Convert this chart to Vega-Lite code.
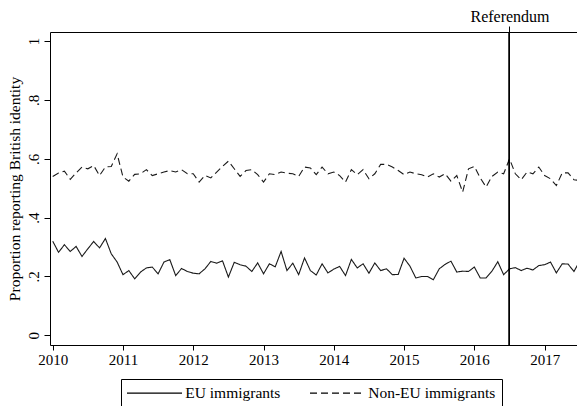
{
  "$schema": "https://vega.github.io/schema/vega-lite/v6.json",
  "width": 527,
  "height": 313,
  "autosize": "none",
  "padding": {"left": 50, "top": 32, "right": 0, "bottom": 61},
  "background": "white",
  "config": {
    "view": {"stroke": null},
    "font": "Liberation Serif",
    "axis": {"domainColor": "#000", "tickColor": "#000", "labelColor": "#000", "titleColor": "#000", "labelFont": "Liberation Serif", "titleFont": "Liberation Serif", "labelFontSize": 15, "titleFontSize": 15.5, "titleFontWeight": "normal", "grid": false, "domainWidth": 1, "tickWidth": 1},
    "legend": {"labelFont": "Liberation Serif", "labelFontSize": 15.5, "labelColor": "#000"}
  },
  "data": {"values": [
    {"t": 2010.0, "EU immigrants": 0.320, "Non-EU immigrants": 0.540},
    {"t": 2010.0833, "EU immigrants": 0.282, "Non-EU immigrants": 0.552},
    {"t": 2010.1667, "EU immigrants": 0.308, "Non-EU immigrants": 0.558},
    {"t": 2010.25, "EU immigrants": 0.285, "Non-EU immigrants": 0.530},
    {"t": 2010.3333, "EU immigrants": 0.302, "Non-EU immigrants": 0.552},
    {"t": 2010.4167, "EU immigrants": 0.268, "Non-EU immigrants": 0.572},
    {"t": 2010.5, "EU immigrants": 0.294, "Non-EU immigrants": 0.566},
    {"t": 2010.5833, "EU immigrants": 0.319, "Non-EU immigrants": 0.577},
    {"t": 2010.6667, "EU immigrants": 0.297, "Non-EU immigrants": 0.543},
    {"t": 2010.75, "EU immigrants": 0.329, "Non-EU immigrants": 0.572},
    {"t": 2010.8333, "EU immigrants": 0.277, "Non-EU immigrants": 0.574},
    {"t": 2010.9167, "EU immigrants": 0.249, "Non-EU immigrants": 0.617},
    {"t": 2011.0, "EU immigrants": 0.206, "Non-EU immigrants": 0.538},
    {"t": 2011.0833, "EU immigrants": 0.220, "Non-EU immigrants": 0.524},
    {"t": 2011.1667, "EU immigrants": 0.192, "Non-EU immigrants": 0.547},
    {"t": 2011.25, "EU immigrants": 0.215, "Non-EU immigrants": 0.549},
    {"t": 2011.3333, "EU immigrants": 0.229, "Non-EU immigrants": 0.563},
    {"t": 2011.4167, "EU immigrants": 0.232, "Non-EU immigrants": 0.543},
    {"t": 2011.5, "EU immigrants": 0.209, "Non-EU immigrants": 0.549},
    {"t": 2011.5833, "EU immigrants": 0.249, "Non-EU immigrants": 0.555},
    {"t": 2011.6667, "EU immigrants": 0.257, "Non-EU immigrants": 0.560},
    {"t": 2011.75, "EU immigrants": 0.203, "Non-EU immigrants": 0.555},
    {"t": 2011.8333, "EU immigrants": 0.227, "Non-EU immigrants": 0.563},
    {"t": 2011.9167, "EU immigrants": 0.217, "Non-EU immigrants": 0.549},
    {"t": 2012.0, "EU immigrants": 0.211, "Non-EU immigrants": 0.549},
    {"t": 2012.0833, "EU immigrants": 0.209, "Non-EU immigrants": 0.521},
    {"t": 2012.1667, "EU immigrants": 0.226, "Non-EU immigrants": 0.543},
    {"t": 2012.25, "EU immigrants": 0.251, "Non-EU immigrants": 0.535},
    {"t": 2012.3333, "EU immigrants": 0.245, "Non-EU immigrants": 0.555},
    {"t": 2012.4167, "EU immigrants": 0.253, "Non-EU immigrants": 0.574},
    {"t": 2012.5, "EU immigrants": 0.198, "Non-EU immigrants": 0.592},
    {"t": 2012.5833, "EU immigrants": 0.248, "Non-EU immigrants": 0.566},
    {"t": 2012.6667, "EU immigrants": 0.240, "Non-EU immigrants": 0.540},
    {"t": 2012.75, "EU immigrants": 0.235, "Non-EU immigrants": 0.560},
    {"t": 2012.8333, "EU immigrants": 0.217, "Non-EU immigrants": 0.563},
    {"t": 2012.9167, "EU immigrants": 0.246, "Non-EU immigrants": 0.546},
    {"t": 2013.0, "EU immigrants": 0.209, "Non-EU immigrants": 0.521},
    {"t": 2013.0833, "EU immigrants": 0.243, "Non-EU immigrants": 0.549},
    {"t": 2013.1667, "EU immigrants": 0.233, "Non-EU immigrants": 0.546},
    {"t": 2013.25, "EU immigrants": 0.285, "Non-EU immigrants": 0.555},
    {"t": 2013.3333, "EU immigrants": 0.220, "Non-EU immigrants": 0.551},
    {"t": 2013.4167, "EU immigrants": 0.245, "Non-EU immigrants": 0.549},
    {"t": 2013.5, "EU immigrants": 0.206, "Non-EU immigrants": 0.540},
    {"t": 2013.5833, "EU immigrants": 0.263, "Non-EU immigrants": 0.572},
    {"t": 2013.6667, "EU immigrants": 0.220, "Non-EU immigrants": 0.569},
    {"t": 2013.75, "EU immigrants": 0.205, "Non-EU immigrants": 0.546},
    {"t": 2013.8333, "EU immigrants": 0.243, "Non-EU immigrants": 0.572},
    {"t": 2013.9167, "EU immigrants": 0.212, "Non-EU immigrants": 0.549},
    {"t": 2014.0, "EU immigrants": 0.225, "Non-EU immigrants": 0.555},
    {"t": 2014.0833, "EU immigrants": 0.234, "Non-EU immigrants": 0.543},
    {"t": 2014.1667, "EU immigrants": 0.203, "Non-EU immigrants": 0.521},
    {"t": 2014.25, "EU immigrants": 0.258, "Non-EU immigrants": 0.563},
    {"t": 2014.3333, "EU immigrants": 0.229, "Non-EU immigrants": 0.546},
    {"t": 2014.4167, "EU immigrants": 0.243, "Non-EU immigrants": 0.563},
    {"t": 2014.5, "EU immigrants": 0.211, "Non-EU immigrants": 0.532},
    {"t": 2014.5833, "EU immigrants": 0.246, "Non-EU immigrants": 0.549},
    {"t": 2014.6667, "EU immigrants": 0.220, "Non-EU immigrants": 0.581},
    {"t": 2014.75, "EU immigrants": 0.226, "Non-EU immigrants": 0.581},
    {"t": 2014.8333, "EU immigrants": 0.206, "Non-EU immigrants": 0.572},
    {"t": 2014.9167, "EU immigrants": 0.207, "Non-EU immigrants": 0.560},
    {"t": 2015.0, "EU immigrants": 0.262, "Non-EU immigrants": 0.546},
    {"t": 2015.0833, "EU immigrants": 0.235, "Non-EU immigrants": 0.555},
    {"t": 2015.1667, "EU immigrants": 0.195, "Non-EU immigrants": 0.549},
    {"t": 2015.25, "EU immigrants": 0.200, "Non-EU immigrants": 0.546},
    {"t": 2015.3333, "EU immigrants": 0.200, "Non-EU immigrants": 0.538},
    {"t": 2015.4167, "EU immigrants": 0.189, "Non-EU immigrants": 0.549},
    {"t": 2015.5, "EU immigrants": 0.226, "Non-EU immigrants": 0.538},
    {"t": 2015.5833, "EU immigrants": 0.241, "Non-EU immigrants": 0.549},
    {"t": 2015.6667, "EU immigrants": 0.252, "Non-EU immigrants": 0.524},
    {"t": 2015.75, "EU immigrants": 0.215, "Non-EU immigrants": 0.543},
    {"t": 2015.8333, "EU immigrants": 0.218, "Non-EU immigrants": 0.487},
    {"t": 2015.9167, "EU immigrants": 0.217, "Non-EU immigrants": 0.566},
    {"t": 2016.0, "EU immigrants": 0.232, "Non-EU immigrants": 0.574},
    {"t": 2016.0833, "EU immigrants": 0.195, "Non-EU immigrants": 0.535},
    {"t": 2016.1667, "EU immigrants": 0.195, "Non-EU immigrants": 0.504},
    {"t": 2016.25, "EU immigrants": 0.218, "Non-EU immigrants": 0.540},
    {"t": 2016.3333, "EU immigrants": 0.250, "Non-EU immigrants": 0.555},
    {"t": 2016.4167, "EU immigrants": 0.206, "Non-EU immigrants": 0.549},
    {"t": 2016.5, "EU immigrants": 0.226, "Non-EU immigrants": 0.600},
    {"t": 2016.5833, "EU immigrants": 0.230, "Non-EU immigrants": 0.549},
    {"t": 2016.6667, "EU immigrants": 0.220, "Non-EU immigrants": 0.529},
    {"t": 2016.75, "EU immigrants": 0.228, "Non-EU immigrants": 0.555},
    {"t": 2016.8333, "EU immigrants": 0.222, "Non-EU immigrants": 0.549},
    {"t": 2016.9167, "EU immigrants": 0.237, "Non-EU immigrants": 0.572},
    {"t": 2017.0, "EU immigrants": 0.240, "Non-EU immigrants": 0.543},
    {"t": 2017.0833, "EU immigrants": 0.249, "Non-EU immigrants": 0.532},
    {"t": 2017.1667, "EU immigrants": 0.212, "Non-EU immigrants": 0.509},
    {"t": 2017.25, "EU immigrants": 0.243, "Non-EU immigrants": 0.552},
    {"t": 2017.3333, "EU immigrants": 0.242, "Non-EU immigrants": 0.552},
    {"t": 2017.4167, "EU immigrants": 0.217, "Non-EU immigrants": 0.529},
    {"t": 2017.5, "EU immigrants": 0.252, "Non-EU immigrants": 0.526}
  ]},
  "resolve": {"axis": {"x": "independent"}},
  "layer": [
    {
      "transform": [{"fold": ["EU immigrants", "Non-EU immigrants"], "as": ["series", "v"]}],
      "mark": {"type": "line", "color": "#1a1a1a", "strokeWidth": 1.1, "clip": true},
      "encoding": {
        "x": {"field": "t", "type": "quantitative",
              "scale": {"domain": [2009.9616, 2017.4605], "nice": false, "zero": false},
              "axis": {"orient": "bottom", "title": null, "values": [2010, 2011, 2012, 2013, 2014, 2015, 2016, 2017], "format": "d", "tickSize": 5, "labelPadding": 2, "labelFlush": false}},
        "y": {"field": "v", "type": "quantitative",
              "scale": {"domain": [-0.033, 1.031], "nice": false, "zero": false},
              "axis": {"title": "Proportion reporting British identity", "values": [0, 0.2, 0.4, 0.6, 0.8, 1],
                       "labelExpr": "datum.value == 0 ? '0' : datum.value == 1 ? '1' : '.' + format(datum.value * 10, '.0f')",
                       "labelAngle": -90, "labelAlign": "center", "labelBaseline": "alphabetic", "tickSize": 6, "labelPadding": 6, "titlePadding": 4}},
        "detail": {"field": "series"},
        "strokeDash": {"field": "series", "type": "nominal",
                       "scale": {"domain": ["EU immigrants", "Non-EU immigrants"], "range": [[1, 0], [7, 4]]},
                       "legend": {"title": null, "orient": "none", "legendX": 71, "legendY": 347, "direction": "horizontal",
                                  "strokeColor": "#000", "padding": 6, "symbolType": "M-1,0L9,0", "symbolSize": 121,
                                  "symbolOffset": -2.25,
                                  "symbolStrokeColor": "#000", "symbolStrokeWidth": 1.1, "labelOffset": 45, "columnPadding": 26}}
      }
    },
    {
      "mark": {"type": "rule", "color": "#000", "strokeWidth": 1},
      "encoding": {
        "x": {"datum": 2016.5, "type": "quantitative",
              "axis": {"orient": "top", "title": null, "values": [2016.5], "labelExpr": "'Referendum'", "labelFontSize": 16, "tickSize": 6, "labelPadding": 2, "labelFlush": false}}
      }
    }
  ]
}
